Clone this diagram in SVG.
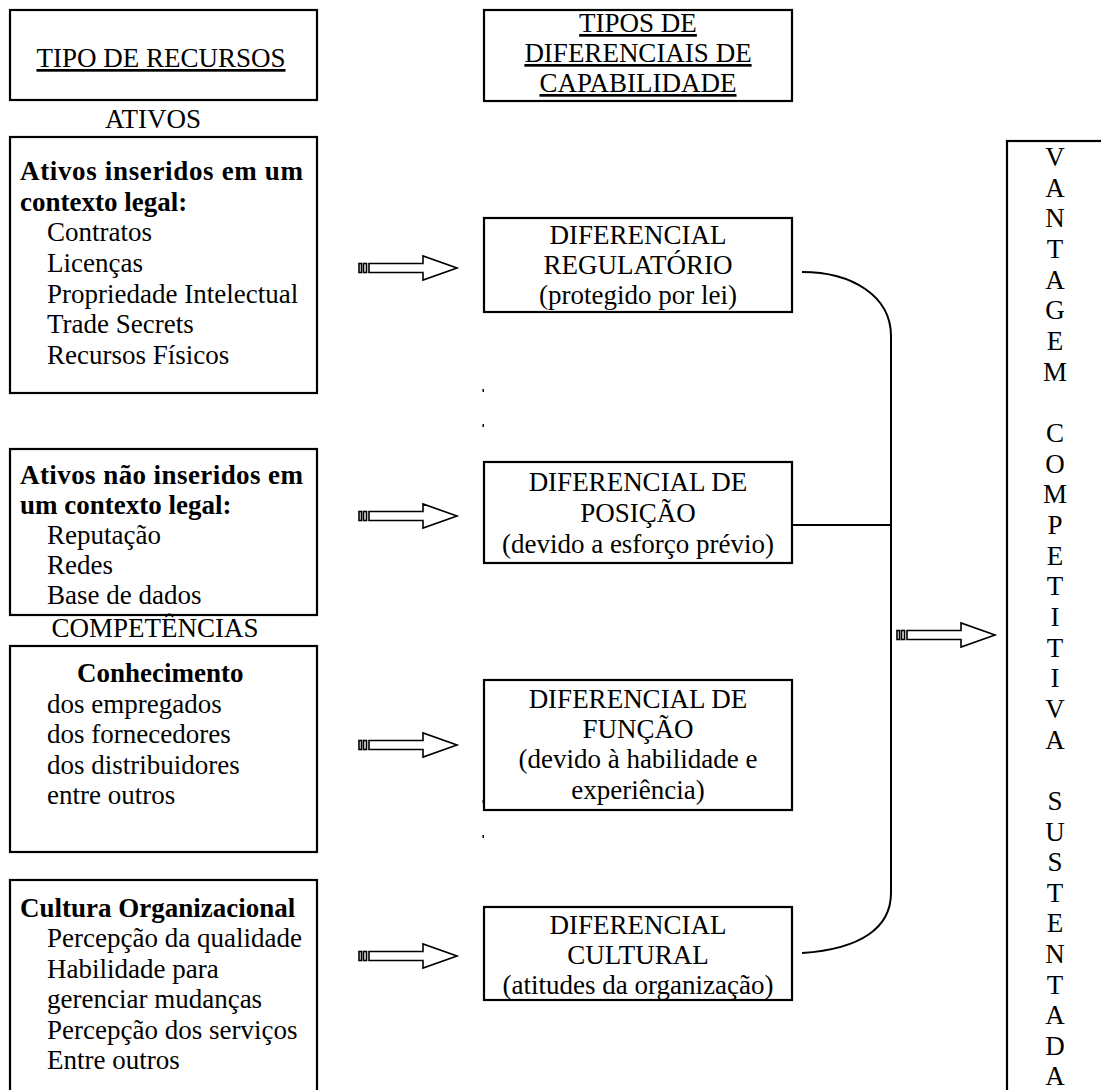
<svg xmlns="http://www.w3.org/2000/svg" width="1101" height="1090" viewBox="0 0 1101 1090">
  <defs>
    <style>
      text { font-family: "Liberation Serif", "Times New Roman", serif; font-size: 27px; fill: #000; }
      .b { font-weight: bold; }
      .c { text-anchor: middle; }
      .u { text-decoration: underline; }
      .box { fill: #fff; stroke: #000; stroke-width: 2.2; }
      .ln { fill: none; stroke: #000; stroke-width: 2; }
      .arr { fill: #fff; stroke: #000; stroke-width: 1.6; stroke-linejoin: miter; }
    </style>
    <!-- block arrow with two small tail bars, tip at (0,0) -->
    <g id="blockArrow">
      <rect class="arr" x="-98" y="-4.5" width="2.5" height="9"/>
      <rect class="arr" x="-93.5" y="-4.5" width="3" height="9"/>
      <path class="arr" d="M-88,-4.5 H-34 V-12 L0,0 L-34,12 V4.5 H-88 Z"/>
    </g>
  </defs>

  <rect width="1101" height="1090" fill="#fff"/>

  <!-- column headers -->
  <g id="hdr-recursos">
    <rect class="box" x="10" y="10" width="307" height="90"/>
    <text class="c u" x="161" y="67">TIPO DE RECURSOS</text>
  </g>
  <g id="hdr-diferenciais">
    <rect class="box" x="484" y="10" width="308" height="91"/>
    <text class="c u" x="638" y="32">TIPOS DE</text>
    <text class="c u" x="638" y="62">DIFERENCIAIS DE</text>
    <text class="c u" x="638" y="92">CAPABILIDADE</text>
  </g>

  <text class="c" x="153" y="128">ATIVOS</text>

  <!-- resources column -->
  <g id="ativos-legais">
    <rect class="box" x="10" y="137" width="307" height="256"/>
    <text class="b" x="20" y="180" textLength="283" lengthAdjust="spacing">Ativos inseridos em um</text>
    <text class="b" x="20" y="211">contexto legal:</text>
    <text x="47" y="241">Contratos</text>
    <text x="47" y="272">Licenças</text>
    <text x="47" y="303">Propriedade Intelectual</text>
    <text x="47" y="333">Trade Secrets</text>
    <text x="47" y="364">Recursos Físicos</text>
  </g>

  <g id="ativos-nao-legais">
    <rect class="box" x="10" y="449" width="307" height="166"/>
    <text class="b" x="20" y="484" textLength="283" lengthAdjust="spacing">Ativos não inseridos em</text>
    <text class="b" x="20" y="514">um contexto legal:</text>
    <text x="47" y="544">Reputação</text>
    <text x="47" y="574">Redes</text>
    <text x="47" y="604">Base de dados</text>
  </g>

  <text class="c" x="155" y="637">COMPETÊNCIAS</text>

  <g id="conhecimento">
    <rect class="box" x="10" y="646" width="307" height="206"/>
    <text class="b" x="77" y="682">Conhecimento</text>
    <text x="47" y="713">dos empregados</text>
    <text x="47" y="743">dos fornecedores</text>
    <text x="47" y="774">dos distribuidores</text>
    <text x="47" y="804">entre outros</text>
  </g>

  <g id="cultura">
    <rect class="box" x="10" y="880" width="307" height="230"/>
    <text class="b" x="20" y="917">Cultura Organizacional</text>
    <text x="47" y="947">Percepção da qualidade</text>
    <text x="47" y="978">Habilidade para</text>
    <text x="47" y="1008">gerenciar mudanças</text>
    <text x="47" y="1039">Percepção dos serviços</text>
    <text x="47" y="1069">Entre outros</text>
  </g>

  <!-- capability differentials column -->
  <g id="dif-regulatorio">
    <rect class="box" x="484" y="218" width="308" height="94"/>
    <text class="c" x="638" y="244">DIFERENCIAL</text>
    <text class="c" x="638" y="274">REGULATÓRIO</text>
    <text class="c" x="638" y="304">(protegido por lei)</text>
  </g>

  <g id="dif-posicao">
    <rect class="box" x="484" y="462" width="308" height="101"/>
    <text class="c" x="638" y="491">DIFERENCIAL DE</text>
    <text class="c" x="638" y="522">POSIÇÃO</text>
    <text class="c" x="638" y="553">(devido a esforço prévio)</text>
  </g>

  <g id="dif-funcao">
    <rect class="box" x="484" y="680" width="308" height="130"/>
    <text class="c" x="638" y="708">DIFERENCIAL DE</text>
    <text class="c" x="638" y="738">FUNÇÃO</text>
    <text class="c" x="638" y="768">(devido à habilidade e</text>
    <text class="c" x="638" y="799">experiência)</text>
  </g>

  <g id="dif-cultural">
    <rect class="box" x="484" y="907" width="308" height="93"/>
    <text class="c" x="638" y="934">DIFERENCIAL</text>
    <text class="c" x="638" y="964">CULTURAL</text>
    <text class="c" x="638" y="994">(atitudes da organização)</text>
  </g>

  <!-- outcome column -->
  <g id="vantagem">
    <rect class="box" x="1007" y="141" width="110" height="970"/>
    <g class="c">
      <text x="1055" y="166">V</text>
      <text x="1055" y="197">A</text>
      <text x="1055" y="227">N</text>
      <text x="1055" y="258">T</text>
      <text x="1055" y="289">A</text>
      <text x="1055" y="319">G</text>
      <text x="1055" y="350">E</text>
      <text x="1055" y="381">M</text>
      <text x="1055" y="442">C</text>
      <text x="1055" y="473">O</text>
      <text x="1055" y="503">M</text>
      <text x="1055" y="534">P</text>
      <text x="1055" y="565">E</text>
      <text x="1055" y="595">T</text>
      <text x="1055" y="626">I</text>
      <text x="1055" y="657">T</text>
      <text x="1055" y="687">I</text>
      <text x="1055" y="718">V</text>
      <text x="1055" y="749">A</text>
      <text x="1055" y="810">S</text>
      <text x="1055" y="841">U</text>
      <text x="1055" y="871">S</text>
      <text x="1055" y="902">T</text>
      <text x="1055" y="932">E</text>
      <text x="1055" y="963">N</text>
      <text x="1055" y="994">T</text>
      <text x="1055" y="1024">A</text>
      <text x="1055" y="1055">D</text>
      <text x="1055" y="1085">A</text>
    </g>
  </g>

  <!-- connectors -->
  <g id="connectors">
    <use href="#blockArrow" x="457" y="268"/>
    <use href="#blockArrow" x="457" y="516"/>
    <use href="#blockArrow" x="457" y="745"/>
    <use href="#blockArrow" x="457" y="956"/>
    <use href="#blockArrow" x="995" y="635"/>
    <!-- bracket joining the four differentials -->
    <path class="ln" d="M802,272 C852,272 891,296 891,336 V893 C891,927 862,949 802,953"/>
    <line class="ln" x1="792" y1="525" x2="891" y2="525"/>
    <!-- stray marks -->
    <rect x="482.5" y="389" width="1.5" height="3"/>
    <rect x="482.5" y="424" width="1.5" height="3"/>
    <rect x="482.5" y="800" width="1.5" height="3"/>
    <rect x="482.5" y="835" width="1.5" height="3"/>
  </g>
</svg>
